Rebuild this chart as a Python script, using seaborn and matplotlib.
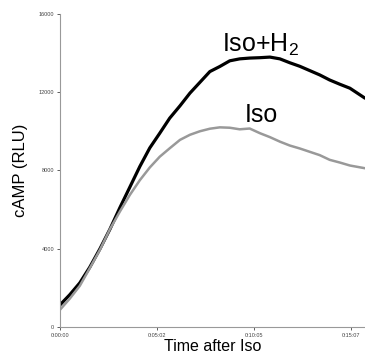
import matplotlib

matplotlib.use("Agg")
import matplotlib.pyplot as plt
import pandas as pd
import seaborn as sns

# time after Iso addition (s)
time_s = [0, 31, 62, 93, 125, 156, 187, 218, 249, 280, 311, 342, 374, 405,
          436, 467, 498, 529, 560, 591, 623, 654, 685, 716, 747, 778, 809,
          840, 872, 903, 950]
iso_h2 = [1120, 1650, 2250, 3050, 4000, 5000, 6100, 7150, 8200, 9150, 9900,
          10670, 11300, 11950, 12500, 13050, 13310, 13600, 13700, 13740,
          13760, 13790, 13700, 13500, 13320, 13100, 12880, 12620, 12400,
          12200, 11690]
iso = [870, 1450, 2100, 3000, 3950, 5000, 5900, 6750, 7500, 8150, 8700,
       9130, 9560, 9820, 10000, 10130, 10200, 10180, 10100, 10140, 9900,
       9700, 9470, 9270, 9120, 8950, 8780, 8540, 8400, 8250, 8110]

tick_pos = [0, 302, 605, 907]
tick_labels = ["0:00:00", "0:05:02", "0:10:05", "0:15:07"]
y_ticks = [0, 4000, 8000, 12000, 16000]

df = pd.DataFrame({"t": time_s * 2,
                   "camp": iso_h2 + iso,
                   "cond": ["Iso+H2"] * len(time_s) + ["Iso"] * len(time_s)})

sns.set_style("ticks")
plt.rcParams["font.family"] = ["Liberation Sans", "DejaVu Sans"]

fig = plt.figure(figsize=(3.65, 3.55), dpi=100)
ax = fig.add_axes([0.164, 0.079, 0.836, 0.882])
sns.lineplot(data=df, x="t", y="camp", hue="cond",
             palette={"Iso+H2": "black", "Iso": "#999999"},
             linewidth=2, legend=False, ax=ax)
ax.lines[0].set_linewidth(2.3)
ax.lines[1].set_linewidth(1.8)

ax.set_xlim(0, 950)
ax.set_ylim(0, 16000)
ax.set_xticks(tick_pos, tick_labels)
ax.set_yticks(y_ticks, [str(v) for v in y_ticks])
ax.tick_params(labelsize=4, colors="#444444", length=2, width=0.6, pad=2)
for s in ("left", "bottom"):
    ax.spines[s].set_color("#999999")
    ax.spines[s].set_linewidth(0.8)
sns.despine(ax=ax)

ax.set_xlabel("Time after Iso", fontsize=11.5, labelpad=1, color="black")
ax.set_ylabel("cAMP (RLU)", fontsize=12, labelpad=8, color="black")

ax.text(506, 14050, "Iso+H$_\\mathregular{2}$", fontsize=18, color="black")
ax.text(575, 10480, "Iso", fontsize=18, color="black")

fig.savefig("out.png", dpi=100)
